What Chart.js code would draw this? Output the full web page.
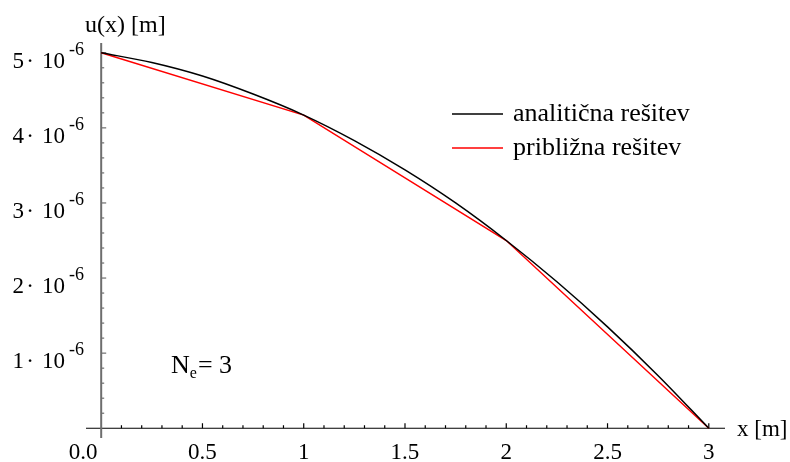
<!DOCTYPE html>
<html>
<head>
<meta charset="utf-8">
<script src="https://cdn.jsdelivr.net/npm/chart.js@4/dist/chart.umd.min.js"></script>
<style>
  html, body { margin: 0; background: #fff; }
</style>
</head>
<body>
<canvas id="chart" width="790" height="462"></canvas>
<script>
// analytic solution
const xAnalytic = [0, 0.25, 0.5, 0.75, 1, 1.25, 1.5, 1.75, 2, 2.25, 2.5, 2.75, 3]
const uAnalytic = [5.00e-6, 4.87e-6, 4.69e-6, 4.45e-6, 4.17e-6, 3.83e-6, 3.44e-6, 3.00e-6, 2.50e-6, 1.95e-6, 1.35e-6, 0.70e-6, 0]

// FEM approximation (N_e = 3), nodes of the red polyline
const xNodes = [0, 1, 2, 3]
const uApprox = [5.00e-6, 4.17e-6, 2.50e-6, 0]

const seriesLabels = ['analitična rešitev', 'približna rešitev']
const xTickValues = [0, 0.5, 1, 1.5, 2, 2.5, 3]
const xTickLabels = ['0.0', '0.5', '1', '1.5', '2', '2.5', '3']
const yTickMantissa = [1, 2, 3, 4, 5]
const yTickExponent = '-6'

const FONT = "'Liberation Serif', 'Times New Roman', serif"

const toPoints = (xs, ys) => xs.map((x, i) => ({ x: x, y: ys[i] }))

// axes, tick marks and labels drawn in the Mathematica style (axes crossing at origin)
const axesPlugin = {
  id: 'axesPlugin',
  beforeDatasetsDraw(chart) {
    const { ctx, chartArea: a } = chart
    const xs = chart.scales.x, ys = chart.scales.y
    const x0 = xs.getPixelForValue(0), y0 = ys.getPixelForValue(0)
    ctx.save()
    // x axis
    ctx.strokeStyle = '#000'
    ctx.lineWidth = 1.2
    ctx.beginPath(); ctx.moveTo(a.left, y0); ctx.lineTo(a.right, y0); ctx.stroke()
    for (let i = 1; i <= 30; i++) {
      const px = xs.getPixelForValue(i / 10)
      const len = i % 5 === 0 ? 5 : 3
      ctx.beginPath(); ctx.moveTo(px, y0); ctx.lineTo(px, y0 - len); ctx.stroke()
    }
    // y axis
    ctx.strokeStyle = '#6e6e6e'
    ctx.lineWidth = 2
    ctx.beginPath(); ctx.moveTo(x0, a.top); ctx.lineTo(x0, a.bottom); ctx.stroke()
    ctx.lineWidth = 1.2
    for (let i = 1; i <= 25; i++) {
      const py = ys.getPixelForValue(i * 0.2e-6)
      const len = i % 5 === 0 ? 5 : 3
      ctx.beginPath(); ctx.moveTo(x0, py); ctx.lineTo(x0 + len, py); ctx.stroke()
    }
    ctx.restore()
  },
  afterDraw(chart) {
    const { ctx } = chart
    const xs = chart.scales.x, ys = chart.scales.y
    const y0 = ys.getPixelForValue(0)
    ctx.save()
    ctx.fillStyle = '#000'
    ctx.textBaseline = 'alphabetic'

    // x tick labels
    ctx.font = '23px ' + FONT
    ctx.textAlign = 'center'
    xTickValues.forEach((v, i) => {
      let px = xs.getPixelForValue(v)
      if (v === 0) px -= 18
      ctx.fillText(xTickLabels[i], px, y0 + 31)
    })

    // y tick labels  "5· 10^-6"
    yTickMantissa.forEach(m => {
      const py = ys.getPixelForValue(m * 1e-6)
      ctx.font = '23px ' + FONT
      ctx.textAlign = 'right'
      ctx.fillText(String(m), 24, py + 15)
      ctx.textAlign = 'center'
      ctx.fillText('·', 30, py + 15)
      ctx.textAlign = 'right'
      ctx.fillText('10', 65, py + 15)
      ctx.font = '18px ' + FONT
      ctx.textAlign = 'left'
      ctx.fillText(yTickExponent, 69, py + 2)
    })

    // axis titles
    ctx.font = '24px ' + FONT
    ctx.textAlign = 'left'
    ctx.fillText('u(x) [m]', 85, 32)
    ctx.font = '23px ' + FONT
    ctx.fillText('x [m]', 737, 436)

    // N_e = 3
    ctx.font = '26px ' + FONT
    ctx.fillText('N', 171, 373)
    let w = ctx.measureText('N').width
    ctx.font = '16px ' + FONT
    ctx.fillText('e', 171 + w, 378)
    const we = ctx.measureText('e').width
    ctx.font = '26px ' + FONT
    ctx.fillText('= 3', 171 + w + we + 1, 373)

    // legend
    const rows = [114, 148]
    chart.data.datasets.forEach((ds, i) => {
      ctx.strokeStyle = ds.borderColor
      ctx.lineWidth = 1.5
      ctx.beginPath(); ctx.moveTo(452, rows[i]); ctx.lineTo(503, rows[i]); ctx.stroke()
      ctx.font = '26px ' + FONT
      ctx.textAlign = 'left'
      ctx.fillText(ds.label, 513, rows[i] + 7)
    })
    ctx.restore()
  }
}

new Chart(document.getElementById('chart'), {
  type: 'scatter',
  data: {
    datasets: [
      {
        label: seriesLabels[0],
        data: toPoints(xAnalytic, uAnalytic),
        showLine: true,
        borderColor: '#000000',
        borderWidth: 1.5,
        pointRadius: 0,
        cubicInterpolationMode: 'monotone',
        clip: false
      },
      {
        label: seriesLabels[1],
        data: toPoints(xNodes, uApprox),
        showLine: true,
        borderColor: '#ff0000',
        borderWidth: 1.5,
        pointRadius: 0,
        clip: false
      }
    ]
  },
  options: {
    responsive: false,
    animation: false,
    layout: { padding: { left: 86, right: 65, top: 43, bottom: 24 } },
    plugins: { legend: { display: false }, tooltip: { enabled: false } },
    scales: {
      x: { type: 'linear', min: -0.075, max: 3.08, display: false },
      y: { type: 'linear', min: -0.13e-6, max: 5.13e-6, display: false }
    }
  },
  plugins: [axesPlugin]
})
</script>
</body>
</html>
